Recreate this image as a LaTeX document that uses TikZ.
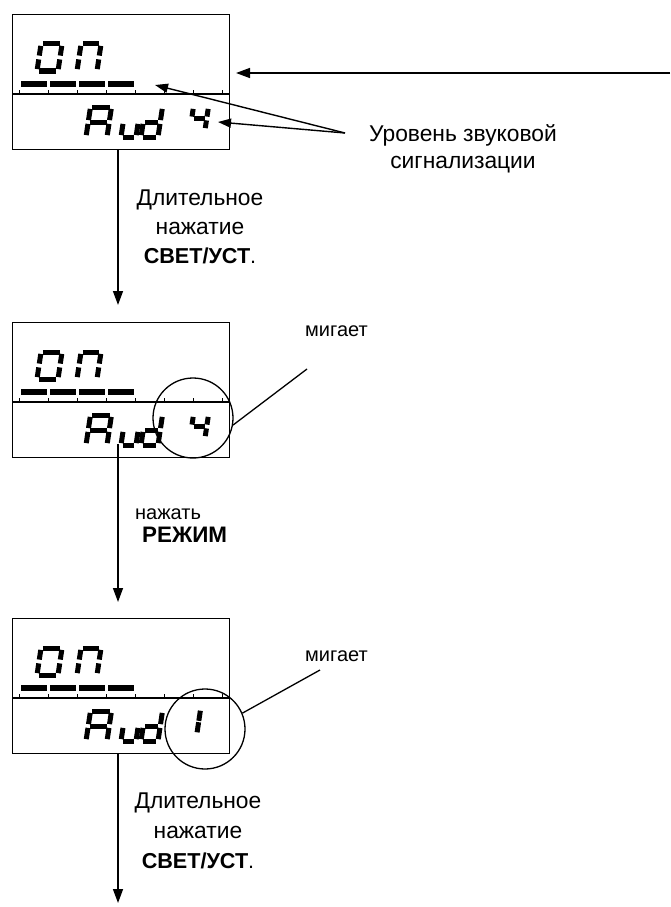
\documentclass[tikz,border=0pt]{standalone}
\usepackage{fontspec}
\setmainfont{Liberation Sans}
\usetikzlibrary{arrows.meta}
\newcommand\sgap{1.9}
\newcommand\segdraw[3]{%
 \if#3a\draw[segl] (\sgap,-#2) -- (#1-\sgap,-#2);\fi
 \if#3b\draw[segl] (#1,-#2+\sgap) -- (#1,-#2/2-\sgap);\fi
 \if#3c\draw[segl] (#1,-#2/2+\sgap) -- (#1,-\sgap);\fi
 \if#3d\draw[segl] (\sgap,0) -- (#1-\sgap,0);\fi
 \if#3e\draw[segl] (0,-#2/2+\sgap) -- (0,-\sgap);\fi
 \if#3f\draw[segl] (0,-#2+\sgap) -- (0,-#2/2-\sgap);\fi
 \if#3g\draw[segl] (\sgap,-#2/2) -- (#1-\sgap,-#2/2);\fi
}
\newcommand\sdigit[5]{%
 \begin{scope}[shift={(#1,#2)},xslant=0.15]
 \foreach \s in {#5}{\segdraw{#3}{#4}{\s}}
 \end{scope}}
\newcommand\lcdpanel[3]{%
 \node[lcdbox, anchor=north west] (#1) at (12,#2) {};
 \draw[lcdline] (12,#2+80) -- (229,#2+80);
 \foreach \k in {0,...,7} \draw[lcdtick] (19+29*\k,#2+80) -- (19+29*\k,#2+76);
 \foreach \k in {0,...,3} \fill (20.5+29*\k,#2+66.5) rectangle (46.5+29*\k,#2+72.5);
 \sdigit{37}{#2+57}{21}{27}{a,b,c,d,e,f}
 \sdigit{77}{#2+57}{20}{27}{a,b,c,e,f}
 \sdigit{86}{#2+123}{21}{30}{a,b,c,e,f,g}
 \sdigit{121}{#2+123}{15}{30}{c,d,e}
 \sdigit{141}{#2+123}{17}{30}{b,c,d,e,g}
 #3
}
\begin{document}
\begin{tikzpicture}[x=1pt,y=-1pt,
 lcdbox/.style={draw, line width=1.3pt, minimum width=217pt, minimum height=135pt, inner sep=0pt},
 lcdline/.style={line width=1.3pt},
 lcdtick/.style={line width=1pt},
 segl/.style={line width=5pt, line cap=butt},
 flow/.style={line width=1.5pt, -{Triangle[width=10pt,length=14pt]}},
 pointer/.style={line width=1.4pt, -{Triangle[width=9pt,length=13pt]}},
 callout/.style={line width=1.3pt},
 ring/.style={draw, circle, line width=1.3pt, minimum size=80pt, inner sep=0pt},
 txt/.style={inner sep=0pt, anchor=base, font=\fontsize{22.8}{27}\selectfont},
 btxt/.style={txt, font=\fontsize{21.6}{26}\selectfont\bfseries},
 stxt/.style={inner sep=0pt, anchor=base west, font=\fontsize{20}{24}\selectfont}]
\useasboundingbox[fill=white] (0,0) rectangle (670,907);

% panels
\lcdpanel{b1}{14}{\sdigit{190}{130}{15}{23}{b,c,f,g}}
\lcdpanel{b2}{322}{\sdigit{190}{438}{15}{23}{b,c,f,g}}
\lcdpanel{b3}{618}{{\renewcommand\sgap{0.7}\sdigit{184}{733}{13}{23}{b,c}}}

% top right arrow
\coordinate (rin) at (670,73);
\coordinate (rtip) at (236,73);
\draw[flow] (rin) -- (rtip);

% level label
\node[txt] (lv1) at (463,141) {Уровень звуковой};
\node[txt] (lv2) at (463,168) {сигнализации};
\coordinate (lvs) at (345,133);
\coordinate (lvt1) at (155,85);
\coordinate (lvt2) at (218,122);
\draw[pointer] (lvs) -- (lvt1);
\draw[pointer] (lvs) -- (lvt2);

% vertical flow
\coordinate (ax) at (118,0);
\draw[flow, shorten >=17pt] (b1.south -| ax) -- (b2.north -| ax);
\draw[flow, shorten <=-14pt, shorten >=16pt] (b2.south -| ax) -- (b3.north -| ax);
\coordinate (aend) at (118,903);
\draw[flow] (b3.south -| ax) -- (aend);

% labels of step 1
\node[txt] (l1a) at (200,205) {Длительное};
\node[txt] (l1b) at (200,234) {нажатие};
\node[btxt] (l1c) at (200,263) {СВЕТ/УСТ\textmd{.}};

% label of step 2
\node[stxt] (l2a) at (135,519) {нажать};
\node[stxt, font=\fontsize{22.4}{26}\selectfont\bfseries] (l2b) at (142,542) {РЕЖИМ};

% labels of step 3
\node[txt] (l3a) at (198,808) {Длительное};
\node[txt] (l3b) at (198,838) {нажатие};
\node[btxt] (l3c) at (198,868) {СВЕТ/УСТ\textmd{.}};

% blinking rings
\node[ring] (c2) at (193,418) {};
\node[ring] (c3) at (205,729) {};
\coordinate (m2) at (307,369);
\coordinate (m3) at (320,670);
\draw[callout] (c2.-10) -- (m2);
\draw[callout] (c3.23) -- (m3);
\node[stxt] (bl2) at (305,336) {мигает};
\node[stxt] (bl3) at (305,661) {мигает};
\end{tikzpicture}
\end{document}
